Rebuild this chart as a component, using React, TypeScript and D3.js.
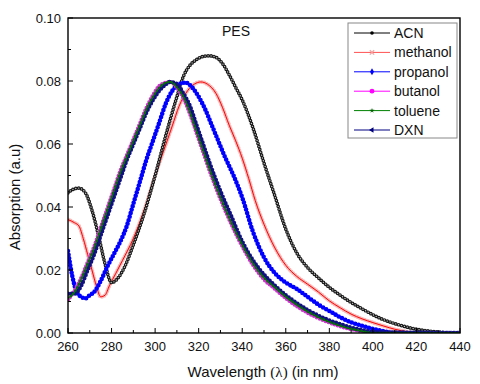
import React from 'react';
import * as d3 from 'd3';

// Wavelength (nm) and absorbance
const acnX = [260, 262, 265, 268, 271, 274, 277, 280, 283, 286, 290, 295, 300, 305, 310, 313, 316, 319, 322, 325, 328, 331, 334, 337, 340, 345, 350, 355, 360, 365, 370, 375, 380, 385, 390, 395, 400, 405, 410, 415, 420, 425, 430, 435, 440];
const acnY = [0.0445, 0.0455, 0.046, 0.0445, 0.039, 0.031, 0.022, 0.016, 0.0175, 0.021, 0.028, 0.038, 0.050, 0.063, 0.075, 0.0815, 0.085, 0.0868, 0.0878, 0.088, 0.0875, 0.0855, 0.082, 0.078, 0.074, 0.065, 0.054, 0.0435, 0.033, 0.0255, 0.0208, 0.0175, 0.0145, 0.012, 0.0097, 0.0077, 0.0058, 0.0042, 0.003, 0.002, 0.0012, 0.0007, 0.0003, 0.0001, 0];

const methX = [260, 263, 265, 267, 269, 271, 273, 275, 277, 279, 282, 285, 290, 295, 300, 305, 308, 311, 315, 318, 321, 324, 328, 331, 334, 337, 340, 343, 346, 350, 355, 360, 365, 370, 375, 380, 385, 390, 395, 400, 405, 410, 415, 420, 440];
const methY = [0.036, 0.035, 0.034, 0.030, 0.025, 0.020, 0.015, 0.0115, 0.012, 0.015, 0.019, 0.023, 0.030, 0.039, 0.050, 0.060, 0.066, 0.072, 0.077, 0.079, 0.0797, 0.079, 0.076, 0.0715, 0.066, 0.061, 0.0555, 0.049, 0.042, 0.0345, 0.027, 0.0215, 0.018, 0.0155, 0.013, 0.0102, 0.008, 0.006, 0.0045, 0.0033, 0.0022, 0.0012, 0.0005, 0, 0];

const propX = [260, 262, 264, 266, 268, 270, 272, 275, 278, 281, 284, 287, 290, 293, 296, 299, 302, 305, 308, 311, 314, 317, 320, 323, 326, 329, 332, 336, 340, 345, 350, 355, 360, 365, 370, 375, 380, 385, 390, 395, 400, 405, 410, 440];
const propY = [0.026, 0.018, 0.013, 0.0115, 0.011, 0.012, 0.013, 0.0165, 0.021, 0.025, 0.029, 0.034, 0.041, 0.048, 0.055, 0.061, 0.067, 0.073, 0.077, 0.079, 0.0795, 0.078, 0.075, 0.071, 0.066, 0.061, 0.056, 0.050, 0.043, 0.032, 0.024, 0.019, 0.016, 0.014, 0.0115, 0.009, 0.007, 0.005, 0.0034, 0.0023, 0.0013, 0.0006, 0, 0];

const tolX = [260, 263, 266, 269, 272, 275, 278, 281, 284, 287, 290, 293, 296, 299, 302, 305, 307, 310, 313, 316, 319, 322, 325, 330, 335, 340, 345, 350, 355, 360, 365, 370, 375, 380, 385, 390, 395, 400, 440];
const tolY = [0.011, 0.013, 0.017, 0.022, 0.027, 0.033, 0.039, 0.045, 0.051, 0.056, 0.061, 0.066, 0.071, 0.075, 0.078, 0.0795, 0.0797, 0.078, 0.075, 0.070, 0.064, 0.058, 0.052, 0.043, 0.035, 0.028, 0.022, 0.0175, 0.0145, 0.0115, 0.009, 0.0068, 0.005, 0.0035, 0.0023, 0.0013, 0.0006, 0, 0];
const butY = [0.0105, 0.0135, 0.0175, 0.0225, 0.0275, 0.0335, 0.0395, 0.0455, 0.0515, 0.0565, 0.0615, 0.0665, 0.0715, 0.0755, 0.0785, 0.0795, 0.0797, 0.0778, 0.0745, 0.0695, 0.0635, 0.0575, 0.0515, 0.0425, 0.0345, 0.0275, 0.0215, 0.017, 0.014, 0.011, 0.0085, 0.0064, 0.0047, 0.0033, 0.0021, 0.0012, 0.0005, 0, 0];
const dxnY = [0.0125, 0.0125, 0.015, 0.020, 0.025, 0.031, 0.037, 0.043, 0.049, 0.055, 0.060, 0.065, 0.070, 0.074, 0.077, 0.079, 0.0797, 0.079, 0.076, 0.072, 0.066, 0.060, 0.054, 0.045, 0.037, 0.029, 0.023, 0.0185, 0.015, 0.012, 0.0095, 0.0073, 0.0055, 0.004, 0.0028, 0.0017, 0.0009, 0.0003, 0];

const legendNames = ['ACN', 'methanol', 'propanol', 'butanol', 'toluene', 'DXN'];
const xTickLabels = [260, 280, 300, 320, 340, 360, 380, 400, 420, 440];
const yTickLabels = [0, 0.02, 0.04, 0.06, 0.08, 0.1];

const W = 480;
const H = 384;
const margin = { top: 18, right: 20, bottom: 51, left: 68 };
const font = '"Liberation Sans", Arial, sans-serif';

type Pt = { x: number; y: number };
const zip = (xs: number[], ys: number[]): Pt[] => xs.map((x, i) => ({ x, y: ys[i] }));

const App: React.FC = () => {
  const x = d3.scaleLinear().domain([260, 440]).range([margin.left, W - margin.right]);
  const y = d3.scaleLinear().domain([0, 0.1]).range([H - margin.bottom, margin.top]);
  const line = d3.line<Pt>().x(d => x(d.x)).y(d => y(d.y)).curve(d3.curveMonotoneX);

  const acn = line(zip(acnX, acnY)) || '';
  const meth = line(zip(methX, methY)) || '';
  const prop = line(zip(propX, propY)) || '';
  const but = line(zip(tolX, butY)) || '';
  const tol = line(zip(tolX, tolY)) || '';
  const dxn = line(zip(tolX, dxnY)) || '';

  const bottom = H - margin.bottom;
  const xMinor = d3.range(260, 441, 10);
  const yMinor = d3.range(0, 0.1001, 0.01);

  // marker look: round dots spaced along the drawn line
  const dots = (d: string, color: string, w: number, gap: number, extra: any = {}) => (
    <path d={d} fill="none" stroke={color} strokeWidth={w} strokeLinecap="round"
      strokeDasharray={`0 ${gap}`} {...extra} />
  );

  const legendY = (i: number) => 33 + i * 19.4;

  return (
    <svg width={W} height={H} style={{ position: 'absolute', left: 0, top: 0, background: '#fff' }}>
      <defs>
        <clipPath id="plot">
          <rect x={margin.left} y={margin.top} width={W - margin.left - margin.right} height={bottom - margin.top} />
        </clipPath>
      </defs>

      <g clipPath="url(#plot)">
        {/* methanol */}
        {dots(meth, '#f29a9a', 4, 2.6, { opacity: 0.7 })}
        <path d={meth} fill="none" stroke="#ff0000" strokeWidth={1} />
        {/* ACN */}
        <path d={acn} fill="none" stroke="#000" strokeWidth={1} />
        {dots(acn, '#1a1a1a', 3.7, 3.0)}
        {dots(acn, '#c8c8c8', 1.4, 3.0)}
        {/* propanol */}
        <path d={prop} fill="none" stroke="#0000ff" strokeWidth={1} />
        {dots(prop, '#0000ff', 4.6, 3.6)}
        {/* butanol */}
        <path d={but} fill="none" stroke="#ff00ff" strokeWidth={1} />
        {dots(but, '#cc33cc', 4, 3.2)}
        {/* DXN */}
        <path d={dxn} fill="none" stroke="#000080" strokeWidth={1} />
        {dots(dxn, '#101080', 4.4, 3.6)}
        {/* toluene */}
        <path d={tol} fill="none" stroke="#008000" strokeWidth={1.2} />
        {dots(tol, '#0a6a0a', 2.6, 3.6)}
      </g>

      {/* frame */}
      <rect x={margin.left} y={margin.top} width={W - margin.left - margin.right} height={bottom - margin.top}
        fill="none" stroke="#000" strokeWidth={1.4} />

      {/* x ticks */}
      {xMinor.map(v => (
        <line key={`xt${v}`} x1={x(v)} x2={x(v)} y1={bottom} y2={bottom - (v % 20 === 0 ? 5 : 3)} stroke="#000" strokeWidth={1} />
      ))}
      {xTickLabels.map(v => (
        <text key={`xl${v}`} x={x(v)} y={351} textAnchor="middle" fontFamily={font} fontSize={13} fill="#111">{v}</text>
      ))}

      {/* y ticks */}
      {yMinor.map((v, i) => (
        <line key={`yt${i}`} x1={margin.left} x2={margin.left + (i % 2 === 0 ? 5 : 3)} y1={y(v)} y2={y(v)} stroke="#000" strokeWidth={1} />
      ))}
      {yTickLabels.map(v => (
        <text key={`yl${v}`} x={61} y={y(v)} dy="0.36em" textAnchor="end" fontFamily={font} fontSize={13} fill="#111">{v.toFixed(2)}</text>
      ))}

      {/* axis titles */}
      <text x={263} y={377} textAnchor="middle" fontFamily={font} fontSize={15} fill="#111">
        Wavelength <tspan fontFamily='"Liberation Serif", serif'>(λ)</tspan> (in nm)
      </text>
      <text x={20} y={197} transform="rotate(-90, 20, 197)" textAnchor="middle" fontFamily={font} fontSize={15} fill="#111">
        Absorption (a.u)
      </text>

      <text x={236} y={36} textAnchor="middle" fontFamily={font} fontSize={14} fill="#111">PES</text>

      {/* legend */}
      <rect x={348} y={23} width={109} height={115} fill="#fff" stroke="#888" strokeWidth={1} />
      {legendNames.map((name, i) => {
        const ly = legendY(i);
        const colors = ['#000', '#ff5050', '#0000ff', '#ff00ff', '#008000', '#000080'];
        const c = colors[i];
        let marker: React.ReactNode = null;
        if (i === 0) marker = <circle cx={372} cy={ly} r={1.8} fill="#000" />;
        if (i === 1) marker = <path d={d3.symbol(d3.symbolX, 14)() || ''} transform={`translate(372,${ly})`} stroke="#f5a0a0" strokeWidth={1.2} />;
        if (i === 2) marker = <path d={d3.symbol(d3.symbolDiamond, 14)() || ''} transform={`translate(372,${ly})`} fill="#0000ff" />;
        if (i === 3) marker = <circle cx={372} cy={ly} r={2.4} fill="#ff00ff" />;
        if (i === 4) marker = <path d={d3.symbol(d3.symbolStar, 8)() || ''} transform={`translate(372,${ly})`} fill="#006000" />;
        if (i === 5) marker = <path d={d3.symbol(d3.symbolTriangle, 12)() || ''} transform={`translate(372,${ly}) rotate(-90)`} fill="#000080" />;
        return (
          <g key={name}>
            <line x1={354} x2={390} y1={ly} y2={ly} stroke={c} strokeWidth={1} />
            {marker}
            <text x={394} y={ly} dy="0.36em" fontFamily={font} fontSize={14} fill="#111">{name}</text>
          </g>
        );
      })}
    </svg>
  );
};

export default App;
